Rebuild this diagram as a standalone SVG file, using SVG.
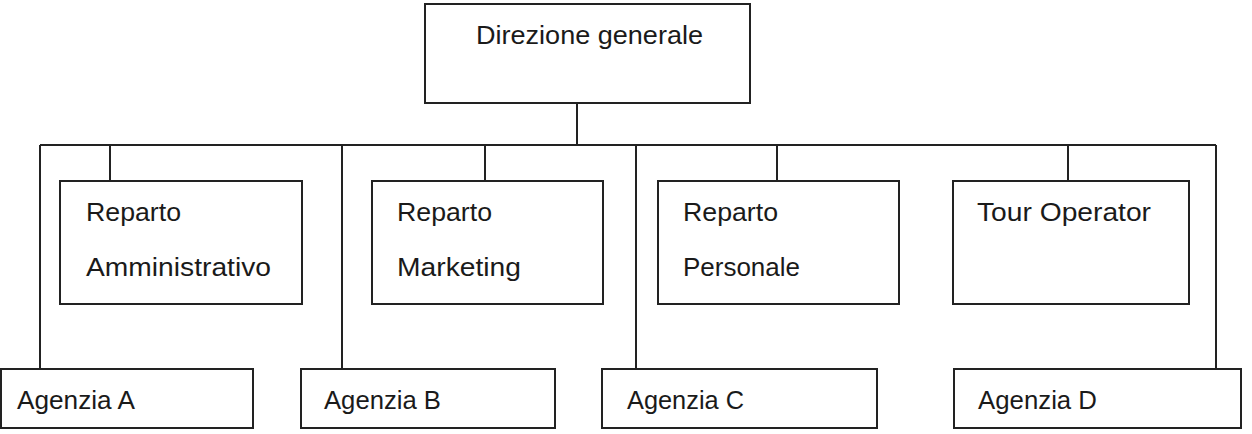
<svg xmlns="http://www.w3.org/2000/svg" width="1252" height="434" viewBox="0 0 1252 434">
<style>
.box{fill:#fff;stroke:#222;stroke-width:2}
.ln{stroke:#222;stroke-width:2;fill:none}
text{font-family:"Liberation Sans",Arial,sans-serif;font-size:26px;fill:#1a1a1a}
</style>
<rect width="1252" height="434" fill="#fff"/>
<g id="connectors">
<path class="ln" d="M577,103V145M40,145H1216M110,145V181M485,145V181M777,145V181M1068,145V181M40,145V369M342,145V369M636,145V369M1216,145V369"/>
</g>
<g id="direzione"><rect class="box" x="425" y="4" width="325" height="99"/><text x="476" y="44" textLength="227" lengthAdjust="spacingAndGlyphs">Direzione generale</text></g>
<g id="amministrativo"><rect class="box" x="60" y="181" width="242" height="123"/><text x="86" y="221" textLength="95" lengthAdjust="spacingAndGlyphs">Reparto</text><text x="86" y="276" textLength="185" lengthAdjust="spacingAndGlyphs">Amministrativo</text></g>
<g id="marketing"><rect class="box" x="372" y="181" width="231" height="123"/><text x="397" y="221" textLength="95" lengthAdjust="spacingAndGlyphs">Reparto</text><text x="397" y="276" textLength="124" lengthAdjust="spacingAndGlyphs">Marketing</text></g>
<g id="personale"><rect class="box" x="658" y="181" width="241" height="123"/><text x="683" y="221" textLength="95" lengthAdjust="spacingAndGlyphs">Reparto</text><text x="683" y="276" textLength="117" lengthAdjust="spacingAndGlyphs">Personale</text></g>
<g id="tour"><rect class="box" x="953" y="181" width="236" height="123"/><text x="977" y="221" textLength="174" lengthAdjust="spacingAndGlyphs">Tour Operator</text></g>
<g id="agenziaA"><rect class="box" x="1" y="369" width="252" height="59"/><text x="17" y="409" textLength="118" lengthAdjust="spacingAndGlyphs">Agenzia A</text></g>
<g id="agenziaB"><rect class="box" x="301" y="369" width="254" height="59"/><text x="324" y="409" textLength="117" lengthAdjust="spacingAndGlyphs">Agenzia B</text></g>
<g id="agenziaC"><rect class="box" x="602" y="369" width="275" height="59"/><text x="627" y="409" textLength="117" lengthAdjust="spacingAndGlyphs">Agenzia C</text></g>
<g id="agenziaD"><rect class="box" x="954" y="369" width="287" height="59"/><text x="978" y="409" textLength="119" lengthAdjust="spacingAndGlyphs">Agenzia D</text></g>
</svg>
